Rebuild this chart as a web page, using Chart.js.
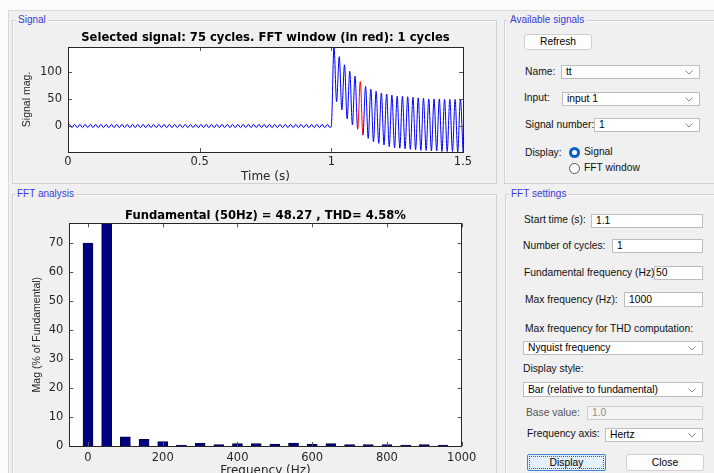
<!DOCTYPE html>
<html><head><meta charset="utf-8">
<script src="https://cdn.jsdelivr.net/npm/chart.js@4.4.1/dist/chart.umd.min.js"></script>
<style>
html,body{margin:0;padding:0;width:714px;height:473px;overflow:hidden;background:#fbfbfb;font-family:"Liberation Sans",Arial,sans-serif;}
#frame{position:absolute;left:8px;top:10px;width:720px;height:480px;background:#f0f0f0;border-top:1px solid #dadada;border-left:1px solid #dadada;}
.panel{position:absolute;border:1px solid #d2d2d2;box-shadow:inset 1px 1px 0 #fafafa;}
.ptitle{position:absolute;background:#f0f0f0;color:#3a3ad8;font-size:10px;line-height:12px;padding:0 2px;white-space:nowrap;}
.lbl{position:absolute;font-size:10.3px;line-height:12px;color:#111;white-space:nowrap;}
.box{position:absolute;background:#fff;border:1px solid #bdbdbd;box-sizing:border-box;font-size:10.3px;color:#000;padding-left:4px;white-space:nowrap;overflow:hidden;}
.chev{position:absolute;right:6px;top:50%;margin-top:-2px;}
.btn{position:absolute;box-sizing:border-box;background:#fdfdfd;border:1px solid #d0d0d0;border-radius:3px;font-size:10.3px;text-align:center;color:#000;}
canvas{position:absolute;}
.radio{position:absolute;width:11px;height:11px;border-radius:50%;box-sizing:border-box;}
</style></head>
<body>
<div id="frame"></div>

<div class="panel" style="left:12px;top:20px;width:483px;height:162px;"></div>
<div class="ptitle" style="left:16px;top:14px;">Signal</div>
<div class="panel" style="left:504px;top:20px;width:230px;height:162px;"></div>
<div class="ptitle" style="left:508px;top:14px;">Available signals</div>
<div class="panel" style="left:12px;top:194px;width:483px;height:300px;"></div>
<div class="ptitle" style="left:15px;top:188px;">FFT analysis</div>
<div class="panel" style="left:505px;top:194px;width:230px;height:300px;"></div>
<div class="ptitle" style="left:509px;top:188px;">FFT settings</div>

<div class="btn" style="left:524px;top:34px;width:68px;height:16px;line-height:14px;">Refresh</div>
<div class="lbl" style="left:525px;top:66px;">Name:</div>
<div class="box" style="left:561px;top:65px;width:139px;height:14px;line-height:12px;">tt<svg class="chev" width="8" height="5"><polyline points="0.5,0.5 4,4 7.5,0.5" fill="none" stroke="#8a8a8a" stroke-width="1"/></svg></div>
<div class="lbl" style="left:524px;top:92px;">Input:</div>
<div class="box" style="left:562px;top:92px;width:138px;height:14px;line-height:12px;">input 1<svg class="chev" width="8" height="5"><polyline points="0.5,0.5 4,4 7.5,0.5" fill="none" stroke="#8a8a8a" stroke-width="1"/></svg></div>
<div class="lbl" style="left:525px;top:119px;">Signal number:</div>
<div class="box" style="left:594px;top:118px;width:106px;height:14px;line-height:12px;">1<svg class="chev" width="8" height="5"><polyline points="0.5,0.5 4,4 7.5,0.5" fill="none" stroke="#8a8a8a" stroke-width="1"/></svg></div>
<div class="lbl" style="left:525px;top:147px;">Display:</div>
<div class="radio" style="left:569px;top:147px;background:#0a5fc6;"><div style="position:absolute;left:3px;top:3px;width:5px;height:5px;border-radius:50%;background:#fff;"></div></div>
<div class="lbl" style="left:584px;top:146px;">Signal</div>
<div class="radio" style="left:569px;top:163px;border:1px solid #555;background:#fff;"></div>
<div class="lbl" style="left:584px;top:162px;">FFT window</div>

<div class="lbl" style="left:524px;top:214px;">Start time (s):</div>
<div class="box" style="left:591px;top:214px;width:112px;height:14px;line-height:12px;">1.1</div>
<div class="lbl" style="left:523px;top:240px;">Number of cycles:</div>
<div class="box" style="left:612px;top:239px;width:91px;height:14px;line-height:12px;">1</div>
<div class="lbl" style="left:524px;top:267px;">Fundamental frequency (Hz)</div>
<div class="box" style="left:654px;top:266px;width:49px;height:14px;line-height:12px;padding-left:1px;">50</div>
<div class="lbl" style="left:525px;top:294px;">Max frequency (Hz):</div>
<div class="box" style="left:624px;top:292px;width:79px;height:15px;line-height:13px;">1000</div>
<div class="lbl" style="left:525px;top:323px;">Max frequency for THD computation:</div>
<div class="box" style="left:523px;top:341px;width:180px;height:14px;line-height:12px;">Nyquist frequency<svg class="chev" width="8" height="5"><polyline points="0.5,0.5 4,4 7.5,0.5" fill="none" stroke="#8a8a8a" stroke-width="1"/></svg></div>
<div class="lbl" style="left:523px;top:363px;">Display style:</div>
<div class="box" style="left:523px;top:382px;width:180px;height:15px;line-height:13px;">Bar (relative to fundamental)<svg class="chev" width="8" height="5"><polyline points="0.5,0.5 4,4 7.5,0.5" fill="none" stroke="#8a8a8a" stroke-width="1"/></svg></div>
<div class="lbl" style="left:526px;top:407px;color:#555;">Base value:</div>
<div class="box" style="left:587px;top:406px;width:116px;height:14px;line-height:12px;background:#f4f4f4;border-color:#cdcdcd;color:#8c8c8c;">1.0</div>
<div class="lbl" style="left:527px;top:428px;">Frequency axis:</div>
<div class="box" style="left:605px;top:428px;width:98px;height:14px;line-height:12px;">Hertz<svg class="chev" width="8" height="5"><polyline points="0.5,0.5 4,4 7.5,0.5" fill="none" stroke="#8a8a8a" stroke-width="1"/></svg></div>
<div class="btn" style="left:527px;top:454px;width:79px;height:17px;line-height:15px;background:#e3effa;border:1px solid #3d86d6;border-radius:2px;"><div style="position:absolute;left:1px;top:1px;right:1px;bottom:1px;border:1px dotted #3a5a8a;"></div>Display</div>
<div class="btn" style="left:626px;top:454px;width:78px;height:17px;line-height:15px;">Close</div>

<canvas id="sig" width="470" height="160" style="left:14px;top:26px;width:470px;height:160px;"></canvas>
<canvas id="fft" width="470" height="290" style="left:14px;top:200px;width:470px;height:290px;"></canvas>

<script>
// ---------- data ----------
// pre-fault (0 - 1 s): small 50 Hz ripple, one peak and one trough per cycle
const preFaultPeaks = [3,3,3,3,3,3,3,3,3,3,3,3,3,3,3,3,3,3,3,3,3,3,3,3,3,3,3,3,3,3,3,3,3,3,3,3,3,3,3,3,3,3,3,3,3,3,3,3,3,3];
const preFaultTroughs = [-3,-3,-3,-3,-3,-3,-3,-3,-3,-3,-3,-3,-3,-3,-3,-3,-3,-3,-3,-3,-3,-3,-3,-3,-3,-3,-3,-3,-3,-3,-3,-3,-3,-3,-3,-3,-3,-3,-3,-3,-3,-3,-3,-3,-3,-3,-3,-3,-3,-3];
// post-fault (1 - 1.5 s): decaying DC offset, 25 cycles
const postFaultPeaks = [146,128,113,101,92,82,73,68,64,61,59,57,55,55,54,53,52,51,50,50,50,49,49,49,49];
const postFaultTroughs = [45,30,13,2,-6,-17,-23,-29,-32,-35,-38,-40,-41,-42,-43,-44,-45,-45,-46,-46,-47,-47,-47,-48,-48];
const signalXTicks = [0, 0.5, 1, 1.5];
const signalYTicks = [0, 50, 100];
const fftWindowStart = 1.1;   // s
const fftCycles = 1;
const fundamentalHz = 50;

const fftFreqs = [0,50,100,150,200,250,300,350,400,450,500,550,600,650,700,750,800,850,900,950];
const fftMags  = [69.9,100,3.2,2.3,1.5,0.35,0.9,0.45,0.8,0.8,0.7,1.0,0.7,0.8,0.45,0.45,0.45,0.35,0.45,0.35];
const fftXTicks = [0,200,400,600,800,1000];
const fftYTicks = [0,10,20,30,40,50,60,70];

const signalTitle = 'Selected signal: 75 cycles. FFT window (in red): 1 cycles';
const fftTitle = 'Fundamental (50Hz) = 48.27 , THD= 4.58%';

// ---------- build the signal trace ----------
const period = 1 / fundamentalHz;
const sigPts = [{x:0, y:0}];
preFaultPeaks.forEach((p, k) => {
  sigPts.push({x: k*period + period/4, y: p});
  sigPts.push({x: k*period + 3*period/4, y: preFaultTroughs[k]});
});
sigPts.push({x: 1.0, y: 0});
postFaultPeaks.forEach((p, k) => {
  sigPts.push({x: 1.0 + k*period + period/2, y: p});
  sigPts.push({x: 1.0 + (k+1)*period, y: postFaultTroughs[k]});
});
const winEnd = fftWindowStart + fftCycles*period;

// ---------- MATLAB-style box + inner ticks ----------
const matlabAxes = {
  id: 'matlabAxes',
  beforeDatasetsDraw(chart) {
    const {ctx, chartArea: a} = chart;
    ctx.save(); ctx.fillStyle = '#fff';
    ctx.fillRect(a.left, a.top, a.right - a.left, a.bottom - a.top);
    ctx.restore();
  },
  afterDatasetsDraw(chart) {
    const {ctx, chartArea: a, scales: {x, y}} = chart;
    const L = 4;
    ctx.save();
    ctx.strokeStyle = '#555'; ctx.lineWidth = 1;
    ctx.beginPath();
    x.ticks.forEach(t => {
      const px = Math.round(x.getPixelForValue(t.value)) + 0.5;
      ctx.moveTo(px, a.bottom); ctx.lineTo(px, a.bottom - L);
      ctx.moveTo(px, a.top); ctx.lineTo(px, a.top + L);
    });
    y.ticks.forEach(t => {
      const py = Math.round(y.getPixelForValue(t.value)) + 0.5;
      ctx.moveTo(a.left, py); ctx.lineTo(a.left + L, py);
      ctx.moveTo(a.right, py); ctx.lineTo(a.right - L, py);
    });
    ctx.stroke();
    ctx.strokeStyle = '#262626';
    ctx.strokeRect(Math.round(a.left) + 0.5, Math.round(a.top) + 0.5, Math.round(a.right - a.left), Math.round(a.bottom - a.top));
    ctx.restore();
  }
};

const tickFont = {family: '"DejaVu Sans"', size: 11.5, lineHeight: 1.2};
const fmt = v => String(v);

new Chart(document.getElementById('sig'), {
  type: 'line',
  data: {datasets: [{
    data: sigPts, borderColor: '#0000ff', borderWidth: 1, pointRadius: 0,
    cubicInterpolationMode: 'monotone',
    segment: {borderColor: c => (c.p0.parsed.x >= fftWindowStart - 1e-9 && c.p1.parsed.x <= winEnd + 1e-9) ? '#ff0000' : undefined}
  }]},
  options: {
    responsive: false, animation: false, events: [],
    layout: {padding: {left: 4, right: 21, top: 5, bottom: 0}},
    plugins: {
      legend: {display: false}, tooltip: {enabled: false},
      title: {display: true, text: signalTitle, color: '#000', fullSize: false,
        font: {family: '"DejaVu Sans"', size: 11.6, weight: 'bold', lineHeight: 1.2},
        padding: {top: 0, bottom: 2}}
    },
    scales: {
      x: {type: 'linear', min: 0, max: 1.5,
        afterBuildTicks: s => { s.ticks = signalXTicks.map(v => ({value: v})); },
        afterFit: s => { s.height = 34; },
        grid: {display: false, drawTicks: false}, border: {display: false},
        ticks: {color: '#262626', font: tickFont, padding: 3.6, callback: fmt, maxRotation: 0},
        title: {display: true, text: 'Time (s)', color: '#262626', font: {family: '"DejaVu Sans"', size: 12, lineHeight: 1.2}, padding: {top: 0, bottom: 1.8}}
      },
      y: {min: -48, max: 146,
        afterBuildTicks: s => { s.ticks = signalYTicks.map(v => ({value: v})); },
        afterFit: s => { s.width = 50; },
        grid: {display: false, drawTicks: false}, border: {display: false},
        ticks: {color: '#262626', font: tickFont, padding: 6, callback: fmt},
        title: {display: true, text: 'Signal mag.', color: '#262626', font: {family: '"Liberation Sans"', size: 10.5, lineHeight: 1.2}, padding: {top: 3.2, bottom: 0}}
      }
    }
  },
  plugins: [matlabAxes]
});

new Chart(document.getElementById('fft'), {
  type: 'bar',
  data: {datasets: [{
    data: fftFreqs.map((f, i) => ({x: f, y: fftMags[i]})),
    backgroundColor: '#000080', borderColor: '#00002a', borderWidth: 0.6,
    barThickness: 10
  }]},
  options: {
    responsive: false, animation: false, events: [],
    layout: {padding: {left: 4, right: 22.3, top: 9, bottom: 0}},
    plugins: {
      legend: {display: false}, tooltip: {enabled: false},
      title: {display: true, text: fftTitle, color: '#000', fullSize: false,
        font: {family: '"DejaVu Sans"', size: 11.6, weight: 'bold', lineHeight: 1.2},
        padding: {top: 0, bottom: 0.4}}
    },
    scales: {
      x: {type: 'linear', min: -50, max: 1000, offset: false,
        afterBuildTicks: s => { s.ticks = fftXTicks.map(v => ({value: v})); },
        afterFit: s => { s.height = 44; },
        grid: {display: false, drawTicks: false, offset: false}, border: {display: false},
        ticks: {color: '#262626', font: tickFont, padding: 4.8, callback: fmt, maxRotation: 0},
        title: {display: true, text: 'Frequency (Hz)', color: '#262626', font: {family: '"DejaVu Sans"', size: 12, lineHeight: 1.2}, padding: {top: 0, bottom: 12.3}}
      },
      y: {min: 0, max: 76.7,
        afterBuildTicks: s => { s.ticks = fftYTicks.map(v => ({value: v})); },
        afterFit: s => { s.width = 51.3; },
        grid: {display: false, drawTicks: false}, border: {display: false},
        ticks: {color: '#262626', font: tickFont, padding: 6, callback: fmt},
        title: {display: true, text: 'Mag (% of Fundamental)', color: '#262626', font: {family: '"Liberation Sans"', size: 10.5, lineHeight: 1.2}, padding: {top: 12.7, bottom: 0}}
      }
    }
  },
  plugins: [matlabAxes]
});
</script>
</body></html>
